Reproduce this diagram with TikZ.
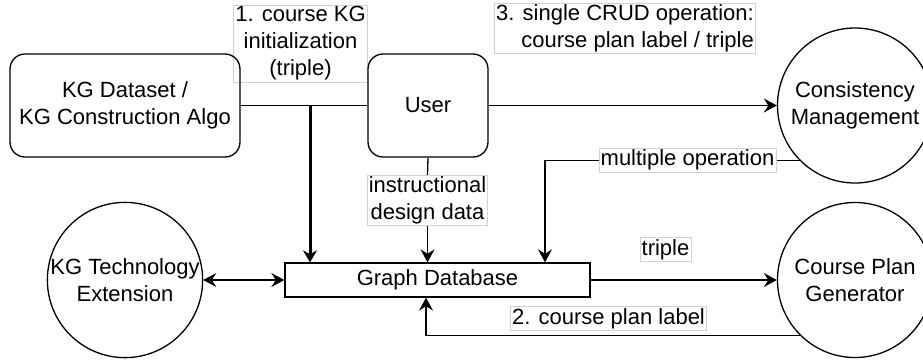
\documentclass[tikz,border=0pt]{standalone}
\usepackage{fontspec}
\setmainfont{Liberation Sans}
\usetikzlibrary{arrows.meta,calc}
\tikzset{
  base/.style={font=\fontsize{22}{27}\selectfont, align=center},
  rbox/.style={base, draw, line width=1.3pt, rounded corners=15pt, inner sep=0pt},
  rectbox/.style={base, draw, line width=1.3pt, inner sep=0pt},
  circ/.style={base, draw, circle, line width=1.3pt, minimum size=155pt, inner sep=0pt},
  lab/.style={base, fill=white, draw=gray!35, line width=0.6pt, inner sep=1.5pt},
  conn/.style={line width=1.3pt},
  arr/.style={conn, -{Stealth[length=13pt, width=14pt, inset=4.5pt]}},
  darr/.style={conn, {Stealth[length=13pt, width=14pt, inset=4.5pt]}-{Stealth[length=13pt, width=14pt, inset=4.5pt]}},
  thickarr/.style={line width=3pt, -{Stealth[length=12pt, width=14pt, inset=4pt]}}
}
\begin{document}
\begin{tikzpicture}[x=1pt, y=-1pt]
\useasboundingbox (0,0) rectangle (923,360);
% labels behind boxes
\node[lab] (l1) at (300.5,43.5) {1. course KG\\initialization\\(triple)};
% nodes
\node[rbox, minimum width=230pt, minimum height=103pt] (kg) at (125,105.5) {KG Dataset /\\KG Construction Algo};
\node[rbox, minimum width=120pt, minimum height=103pt] (user) at (428,105.5) {User};
\node[rectbox, minimum width=305pt, minimum height=34pt] (gdb) at (437.5,280) {Graph Database};
\node[circ] (tech) at (125,280) {KG Technology\\Extension};
\node[circ] (cons) at (855,105.5) {Consistency\\Management};
\node[circ] (cpg) at (855,280) {Course Plan\\Generator};
% labels
\node[lab, align=right] (l3) at (625,28.5) {3. single CRUD operation:\\course plan label / triple};
\node[lab] (linst) at (427.5,200.5) {instructional\\design data};
\node[lab] (ltriple) at (665.5,249.5) {triple};
\node[lab] (l2) at (608.5,318.5) {2. course plan label};
% connectors
\draw[conn] (kg.east) -- (user.west);
\coordinate (j1) at (310,105.5);
\draw[thickarr] (j1) -- (j1 |- gdb.north);
\draw[conn] (user.south) -- (linst.north);
\draw[arr] (linst.south) -- (linst.south |- gdb.north);
\draw[arr] (user.east) -- (cons.west);
\draw[arr] (cons.225) -| ([xshift=107.5pt]gdb.north);
\node[lab] (lmult) at (687.5,160.3) {multiple operation};
\draw[arr] (gdb.east) -- (cpg.west);
\draw[arr] (cpg.225) -| ([xshift=-11.5pt]gdb.south);
\draw[darr] (tech.east) -- (gdb.west);
\end{tikzpicture}
\end{document}
